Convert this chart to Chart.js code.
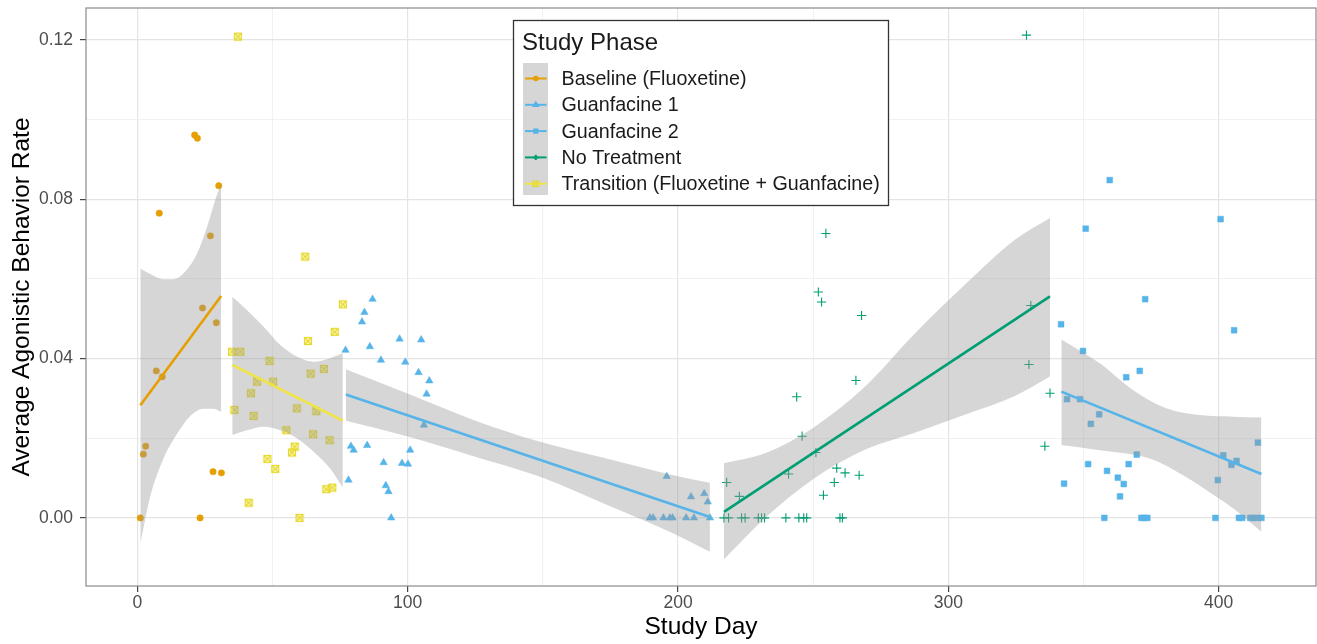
<!DOCTYPE html>
<html>
<head>
<meta charset="utf-8">
<title>Average Agonistic Behavior Rate by Study Day</title>
<script src="https://cdn.jsdelivr.net/npm/chart.js@4.4.1/dist/chart.umd.min.js"></script>
<style>
    html, body { margin: 0; padding: 0; background: #fff; overflow: hidden; }
    #chart-wrap { width: 1317px; height: 644px; position: relative; }
    #chart-wrap canvas { display: block; }
</style>
</head>
<body>
<div id="chart-wrap"><canvas id="phase-chart"></canvas></div>
<script>
/**
 * Data
 */
const phaseNames = ["Baseline (Fluoxetine)", "Guanfacine 1", "Guanfacine 2", "No Treatment", "Transition (Fluoxetine + Guanfacine)"];
const phaseColors = ["#E69F00", "#56B4E9", "#56B4E9", "#009E73", "#F0E442"];

const xTickValues = [0, 50, 100, 150, 200, 250, 300, 350, 400];
const yTickValues = [0, 0.02, 0.04, 0.06, 0.08, 0.10, 0.12];

// observed points
const baselineDays  = [21.2, 22.2, 30.1, 8.1, 27.0, 24.1, 29.2, 7.0, 9.2, 3.1, 2.2, 28.0, 31.1, 1.1, 23.2];
const baselineRates = [0.0961, 0.0953, 0.0834, 0.0765, 0.0708, 0.0527, 0.0490, 0.0369, 0.0354, 0.0180, 0.0160, 0.0116, 0.0113, 0, 0];

const transitionDays  = [37.2, 62.1, 76.0, 73.0, 63.1, 35.0, 38.1, 48.9, 44.3, 50.2, 64.1, 69.0, 42.0, 35.9, 43.0, 59.0, 66.2, 55.1, 65.0, 71.1, 58.2, 57.2, 48.1, 51.0, 69.9, 72.1, 41.2, 60.0];
const transitionRates = [0.1208, 0.0656, 0.0536, 0.0467, 0.0444, 0.0417, 0.0417, 0.0394, 0.0342, 0.0342, 0.0362, 0.0374, 0.0313, 0.0271, 0.0256, 0.0275, 0.0268, 0.0220, 0.0210, 0.0195, 0.0179, 0.0164, 0.0148, 0.0123, 0.0072, 0.0076, 0.0038, 0];

const guanfacine1Days  = [87.0, 84.0, 83.1, 77.0, 86.0, 90.1, 97.0, 105.0, 99.1, 104.0, 108.0, 107.0, 106.0, 79.0, 80.0, 85.0, 100.9, 91.1, 97.9, 100.1, 78.1, 91.9, 92.9, 93.9,
                          195.8, 204.8, 209.7, 211.0, 189.6, 190.8, 194.6, 197.0, 198.0, 203.0, 205.9, 211.8];
const guanfacine1Rates = [0.0549, 0.0516, 0.0492, 0.0421, 0.0430, 0.0396, 0.0449, 0.0447, 0.0391, 0.0365, 0.0344, 0.0311, 0.0233, 0.0180, 0.0170, 0.0182, 0.0170, 0.0139, 0.0137, 0.0135, 0.0095, 0.0081, 0.0066, 0,
                          0.0104, 0.0053, 0.0061, 0.0040, 0, 0, 0, 0, 0, 0, 0, 0];

const noTreatmentDays  = [328.9, 254.7, 251.9, 253.1, 267.9, 330.5, 329.8, 337.6, 335.7, 265.8, 243.9, 245.9, 251.0, 240.9, 258.7, 261.8, 267.0, 257.8, 253.8, 218.0, 222.7,
                          217.0, 218.7, 223.5, 224.8, 229.7, 230.9, 232.0, 239.9, 244.7, 246.5, 247.6, 259.9, 260.8];
const noTreatmentRates = [0.1212, 0.0714, 0.0567, 0.0542, 0.0508, 0.0533, 0.0385, 0.0313, 0.0180, 0.0345, 0.0304, 0.0205, 0.0164, 0.0110, 0.0125, 0.0113, 0.0107, 0.0089, 0.0057, 0.0089, 0.0054,
                          0, 0, 0, 0, 0, 0, 0, 0, 0, 0, 0, 0, 0];

const guanfacine2Days  = [359.7, 350.8, 400.7, 372.8, 405.7, 341.7, 349.8, 370.8, 365.8, 343.9, 348.7, 355.8, 352.7, 414.5, 369.7, 401.7, 406.6, 404.7, 351.7, 366.7, 358.7, 362.7, 364.9, 342.8, 399.7, 363.5,
                          357.7, 371.4, 372.4, 373.6, 398.8, 407.5, 408.7, 411.7, 412.9, 414.2, 415.8];
const guanfacine2Rates = [0.0848, 0.0726, 0.0750, 0.0549, 0.0471, 0.0486, 0.0419, 0.0369, 0.0353, 0.0298, 0.0298, 0.0260, 0.0236, 0.0189, 0.0159, 0.0157, 0.0143, 0.0133, 0.0135, 0.0135, 0.0118, 0.0101, 0.0085, 0.0086, 0.0095, 0.0054,
                          0, 0, 0, 0, 0, 0, 0, 0, 0, 0, 0];

// fitted lines
const baselineFitDays = [1.1, 31.0];        const baselineFitRates = [0.0283, 0.0557];
const transitionFitDays = [35.1, 76.0];     const transitionFitRates = [0.0384, 0.0244];
const guanfacine1FitDays = [77.1, 211.8];   const guanfacine1FitRates = [0.0310, 0.0002];
const noTreatmentFitDays = [217.0, 337.6];  const noTreatmentFitRates = [0.0015, 0.0556];
const guanfacine2FitDays = [341.8, 415.8];  const guanfacine2FitRates = [0.0317, 0.0110];

// confidence bands (upper / lower edges)
const baselineUpperDays = [1.1, 4.8, 9.7, 13.4, 17.1, 22.1, 25.8, 28.8, 31.0];
const baselineUpper     = [0.0626, 0.0612, 0.0599, 0.0599, 0.0614, 0.0664, 0.0731, 0.0798, 0.0840];
const baselineLowerDays = [1.1, 4.8, 9.7, 14.6, 19.5, 24.5, 28.2, 31.0];
const baselineLower     = [-0.0065, 0.0055, 0.0150, 0.0210, 0.0255, 0.0274, 0.0274, 0.0266];

const transitionBandDays = [35.1, 40.5, 46.7, 52.9, 59.0, 65.2, 71.3, 76.0];
const transitionUpper    = [0.0555, 0.0522, 0.0480, 0.0434, 0.0405, 0.0392, 0.0401, 0.0413];
const transitionLower    = [0.0208, 0.0220, 0.0229, 0.0220, 0.0200, 0.0166, 0.0124, 0.0076];

const guanfacine1BandDays = [77.1, 99.7, 124.3, 149.0, 173.6, 198.3, 211.8];
const guanfacine1Upper    = [0.0373, 0.0313, 0.0246, 0.0191, 0.0149, 0.0107, 0.0088];
const guanfacine1Lower    = [0.0244, 0.0205, 0.0155, 0.0103, 0.0033, -0.0039, -0.0085];

const noTreatmentBandDays = [217.0, 232.2, 250.6, 269.1, 287.6, 306.1, 324.6, 337.6];
const noTreatmentUpper    = [0.0137, 0.0162, 0.0229, 0.0329, 0.0463, 0.0585, 0.0698, 0.0753];
const noTreatmentLower    = [-0.0104, 0.0000, 0.0100, 0.0171, 0.0214, 0.0259, 0.0306, 0.0355];

const guanfacine2UpperDays = [341.8, 356.0, 368.3, 380.6, 393.0, 405.3, 415.8];
const guanfacine2Upper     = [0.0448, 0.0388, 0.0321, 0.0275, 0.0258, 0.0254, 0.0252];
const guanfacine2LowerDays = [341.8, 356.0, 374.5, 386.8, 399.1, 405.3, 415.8];
const guanfacine2Lower     = [0.0183, 0.0170, 0.0149, 0.0107, 0.0053, 0.0024, -0.0035];


/**
 * Markers
 */
function squareCrossMarker(color) {
    const c = document.createElement("canvas");
    c.width = 10;
    c.height = 10;
    const g = c.getContext("2d");
    g.fillStyle = "rgba(240,228,66,0.35)";
    g.fillRect(1, 1, 8, 8);
    g.strokeStyle = color;
    g.lineWidth = 1.2;
    g.strokeRect(1.5, 1.5, 7, 7);
    g.beginPath();
    g.moveTo(1.5, 1.5); g.lineTo(8.5, 8.5);
    g.moveTo(8.5, 1.5); g.lineTo(1.5, 8.5);
    g.stroke();
    return c;
}

const phaseMarkers = [
    {pointStyle: "circle",   radius: 3.2, borderWidth: 0.5},
    {pointStyle: "triangle", radius: 4.3, borderWidth: 0.5},
    {pointStyle: "rect",     radius: 4.1, borderWidth: 0.5},
    {pointStyle: "cross",    radius: 4.6, borderWidth: 1.1},
    {pointStyle: squareCrossMarker("#E6D92E"), radius: 4, borderWidth: 0}
];

const RIBBON = "rgba(153,153,153,0.4)";


/**
 * Datasets
 */
function toPoints(xs, ys) {
    return xs.map((x, i) => ({x: x, y: ys[i]}));
}

const phaseTable = [
    {days: baselineDays, rates: baselineRates, fitDays: baselineFitDays, fitRates: baselineFitRates,
     upDays: baselineUpperDays, up: baselineUpper, loDays: baselineLowerDays, lo: baselineLower},
    {days: guanfacine1Days, rates: guanfacine1Rates, fitDays: guanfacine1FitDays, fitRates: guanfacine1FitRates,
     upDays: guanfacine1BandDays, up: guanfacine1Upper, loDays: guanfacine1BandDays, lo: guanfacine1Lower},
    {days: guanfacine2Days, rates: guanfacine2Rates, fitDays: guanfacine2FitDays, fitRates: guanfacine2FitRates,
     upDays: guanfacine2UpperDays, up: guanfacine2Upper, loDays: guanfacine2LowerDays, lo: guanfacine2Lower},
    {days: noTreatmentDays, rates: noTreatmentRates, fitDays: noTreatmentFitDays, fitRates: noTreatmentFitRates,
     upDays: noTreatmentBandDays, up: noTreatmentUpper, loDays: noTreatmentBandDays, lo: noTreatmentLower},
    {days: transitionDays, rates: transitionRates, fitDays: transitionFitDays, fitRates: transitionFitRates,
     upDays: transitionBandDays, up: transitionUpper, loDays: transitionBandDays, lo: transitionLower}
];

function buildDatasets() {
    const datasets = [];
    phaseTable.forEach((phase, i) => {
        const marker = phaseMarkers[i];
        const color = phaseColors[i];
        datasets.push({
            label: phaseNames[i],
            data: toPoints(phase.days, phase.rates),
            showLine: false,
            pointStyle: marker.pointStyle,
            pointRadius: marker.radius,
            pointBackgroundColor: color,
            pointBorderColor: color,
            pointBorderWidth: marker.borderWidth,
            order: 3
        });
        datasets.push({
            label: phaseNames[i] + " upper",
            data: toPoints(phase.upDays, phase.up),
            showLine: true,
            borderColor: "rgba(0,0,0,0)",
            borderWidth: 0,
            pointRadius: 0,
            cubicInterpolationMode: "monotone",
            fill: {target: "+1"},
            backgroundColor: RIBBON,
            order: 2
        });
        datasets.push({
            label: phaseNames[i] + " lower",
            data: toPoints(phase.loDays, phase.lo),
            showLine: true,
            borderColor: "rgba(0,0,0,0)",
            borderWidth: 0,
            pointRadius: 0,
            cubicInterpolationMode: "monotone",
            fill: false,
            order: 2
        });
        datasets.push({
            label: phaseNames[i] + " fit",
            data: toPoints(phase.fitDays, phase.fitRates),
            showLine: true,
            borderColor: color,
            borderWidth: 2.6,
            pointRadius: 0,
            fill: false,
            order: 1
        });
    });
    return datasets;
}


/**
 * Plugins: panel border + legend box
 */
const panelBorder = {
    id: "panelBorder",
    afterDatasetsDraw(chart) {
        const {ctx, chartArea: a} = chart;
        ctx.save();
        ctx.strokeStyle = "#8a8a8a";
        ctx.lineWidth = 1.2;
        ctx.strokeRect(a.left, a.top, a.right - a.left, a.bottom - a.top);
        ctx.restore();
    }
};

const phaseLegend = {
    id: "phaseLegend",
    afterDraw(chart) {
        const ctx = chart.ctx;
        const box = {x: 513.5, y: 20.5, w: 375, h: 185};
        ctx.save();
        ctx.fillStyle = "#fff";
        ctx.fillRect(box.x, box.y, box.w, box.h);
        ctx.strokeStyle = "#333";
        ctx.lineWidth = 1.3;
        ctx.strokeRect(box.x, box.y, box.w, box.h);

        ctx.fillStyle = "#1a1a1a";
        ctx.textBaseline = "middle";
        ctx.textAlign = "left";
        ctx.font = "24px 'Liberation Sans', Arial, sans-serif";
        ctx.fillText("Study Phase", 522, 43);

        ctx.fillStyle = "#d6d6d6";
        ctx.fillRect(523, 63, 25, 132);

        ctx.font = "19.7px 'Liberation Sans', Arial, sans-serif";
        phaseNames.forEach((name, i) => {
            const y = 78.5 + i * 26.3;
            ctx.strokeStyle = phaseColors[i];
            ctx.lineWidth = 2;
            ctx.beginPath();
            ctx.moveTo(525, y);
            ctx.lineTo(546.5, y);
            ctx.stroke();
            ctx.fillStyle = phaseColors[i];
            const m = phaseMarkers[i];
            if (typeof m.pointStyle === "string") {
                Chart.helpers.drawPoint(ctx, {pointStyle: m.pointStyle, radius: m.radius * 0.55, rotation: 0, borderWidth: 1}, 535.8, y);
            } else {
                ctx.drawImage(m.pointStyle, 531.5, y - 4, 8, 8);
            }
            ctx.fillStyle = "#1a1a1a";
            ctx.fillText(name, 561.5, y + 1);
        });
        ctx.restore();
    }
};


/**
 * Chart
 */
const isMajorX = (v) => v % 100 === 0;
const isMajorY = (v) => Math.round(v * 100) % 4 === 0;
const tickFont = {family: "'Liberation Sans', Arial, sans-serif", size: 17.5};
const titleFont = {family: "'Liberation Sans', Arial, sans-serif", size: 24.5};

const phaseChart = new Chart(document.getElementById("phase-chart"), {
    type: "line",
    data: {datasets: buildDatasets()},
    options: {
        animation: false,
        responsive: true,
        maintainAspectRatio: false,
        events: [],
        layout: {autoPadding: false, padding: {top: 8, right: 1, left: 0, bottom: 0}},
        plugins: {
            legend: {display: false},
            tooltip: {enabled: false}
        },
        scales: {
            x: {
                type: "linear",
                min: -19,
                max: 436,
                afterBuildTicks: (scale) => { scale.ticks = xTickValues.map(v => ({value: v})); },
                afterFit: (scale) => {
                    scale.height = 58;
                    scale.paddingLeft = 0;
                    scale.paddingRight = 0;
                },
                border: {display: false},
                grid: {
                    color: (c) => (c.tick && isMajorX(c.tick.value)) ? "#e4e4e4" : "#eeeeee",
                    lineWidth: (c) => (c.tick && isMajorX(c.tick.value)) ? 1.2 : 0.8,
                    tickColor: (c) => (c.tick && isMajorX(c.tick.value)) ? "#444" : "rgba(0,0,0,0)",
                    tickLength: 6
                },
                ticks: {
                    autoSkip: false,
                    maxRotation: 0,
                    padding: 1,
                    color: "#4d4d4d",
                    font: tickFont,
                    callback: (v) => isMajorX(v) ? String(v) : ""
                },
                title: {
                    display: true,
                    text: "Study Day",
                    color: "#000",
                    font: titleFont,
                    padding: {top: 0, bottom: 2}
                }
            },
            y: {
                type: "linear",
                min: -0.0171,
                max: 0.128,
                afterBuildTicks: (scale) => { scale.ticks = yTickValues.map(v => ({value: v})); },
                afterFit: (scale) => {
                    scale.width = 86;
                    scale.paddingTop = 0;
                    scale.paddingBottom = 0;
                },
                border: {display: false},
                grid: {
                    color: (c) => (c.tick && isMajorY(c.tick.value)) ? "#e4e4e4" : "#eeeeee",
                    lineWidth: (c) => (c.tick && isMajorY(c.tick.value)) ? 1.2 : 0.8,
                    tickColor: (c) => (c.tick && isMajorY(c.tick.value)) ? "#444" : "rgba(0,0,0,0)",
                    tickLength: 6
                },
                ticks: {
                    padding: 7,
                    color: "#4d4d4d",
                    font: tickFont,
                    callback: (v) => isMajorY(v) ? v.toFixed(2) : ""
                },
                title: {
                    display: true,
                    text: "Average Agonistic Behavior Rate",
                    color: "#000",
                    font: titleFont,
                    padding: {top: 8, bottom: 0}
                }
            }
        }
    },
    plugins: [panelBorder, phaseLegend]
});
</script>
</body>
</html>
